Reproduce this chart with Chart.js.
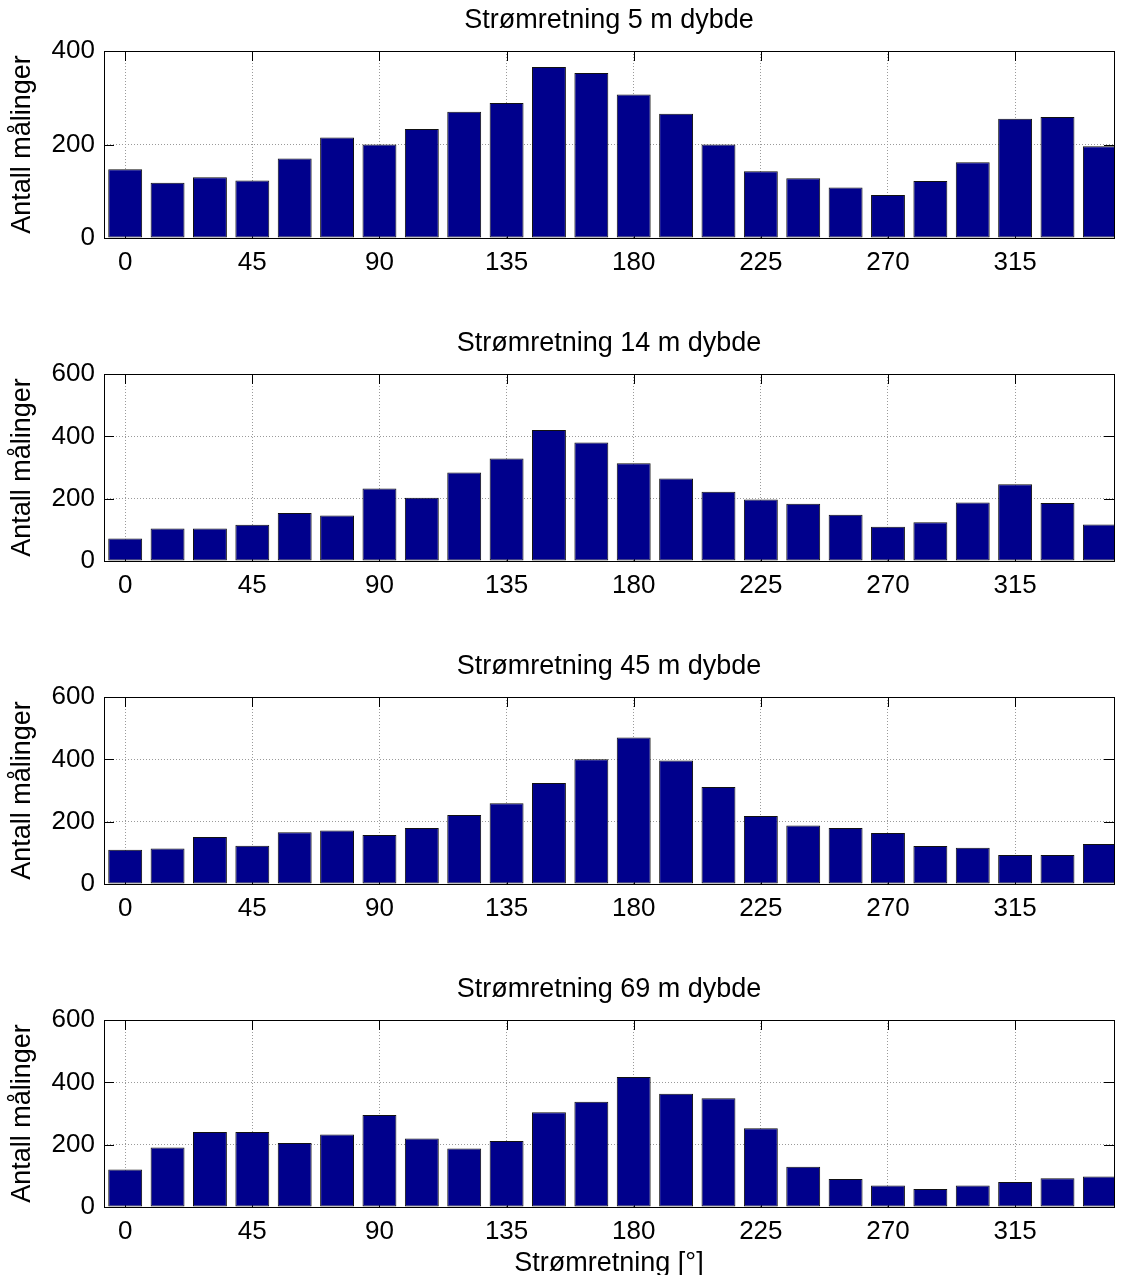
<!DOCTYPE html>
<html>
<head>
<meta charset="utf-8">
<script src="https://cdn.jsdelivr.net/npm/chart.js@4.4.1/dist/chart.umd.min.js"></script>
<style>
  html, body { margin: 0; padding: 0; background: #fff; overflow: hidden; }
  #wrap { position: relative; width: 1125px; height: 1275px; overflow: hidden; }
  canvas { position: absolute; left: 0; }
</style>
</head>
<body>
<div id="wrap">
  <canvas id="c0" width="1125" height="323" style="top:0px"></canvas>
  <canvas id="c1" width="1125" height="323" style="top:323px"></canvas>
  <canvas id="c2" width="1125" height="323" style="top:646px"></canvas>
  <canvas id="c3" width="1125" height="323" style="top:969px"></canvas>
</div>
<script>
// ==============================
// Strømretning histograms, 4 depths, 15° bins
// ==============================

const DIRECTIONS = [0, 15, 30, 45, 60, 75, 90, 105, 120, 135, 150, 165,
                    180, 195, 210, 225, 240, 255, 270, 285, 300, 315, 330, 345];
const X_TICKS = [0, 45, 90, 135, 180, 225, 270, 315];

const DEPTHS = ["5", "14", "45", "69"];
const COUNTS_5M  = [147, 118, 130, 123, 170, 215, 200, 233, 270, 289, 366, 353,
                    307, 266, 200, 143, 128, 108, 92, 122, 162, 255, 259, 196];
const COUNTS_14M = [72, 104, 104, 116, 154, 146, 233, 203, 284, 329, 420, 380,
                    314, 265, 222, 197, 184, 148, 110, 124, 188, 246, 186, 117];
const COUNTS_45M = [110, 114, 151, 123, 166, 172, 157, 180, 221, 259, 324, 400,
                    470, 396, 311, 218, 188, 180, 164, 122, 116, 93, 93, 128];
const COUNTS_69M = [120, 191, 241, 241, 205, 233, 295, 220, 188, 212, 304, 338,
                    417, 363, 349, 253, 129, 90, 69, 58, 69, 80, 92, 98];
const Y_MAX = [400, 600, 600, 600];

const FONT = "'Liberation Sans', Arial, Helvetica, sans-serif";
const BAR_FILL = "#00008c";
const GRID_COL = "#9a9a9a";
const TICK_LEN = 10;

// inward tick marks + solid box, like the matlab axes
const boxTicks = {
  id: "boxTicks",
  beforeDatasetsDraw(chart) {
    const { ctx, chartArea: a, scales: { x, y } } = chart;
    ctx.save();
    ctx.strokeStyle = "#000";
    ctx.lineWidth = 1;
    ctx.beginPath();
    x.ticks.forEach(t => {
      const px = Math.round(x.getPixelForValue(t.value)) + 0.5;
      ctx.moveTo(px, a.top); ctx.lineTo(px, a.top + TICK_LEN);
      ctx.moveTo(px, a.bottom); ctx.lineTo(px, a.bottom - TICK_LEN);
    });
    y.ticks.forEach(t => {
      const py = Math.round(y.getPixelForValue(t.value)) + 0.5;
      ctx.moveTo(a.left, py); ctx.lineTo(a.left + TICK_LEN, py);
      ctx.moveTo(a.right, py); ctx.lineTo(a.right - TICK_LEN, py);
    });
    ctx.stroke();
    ctx.restore();
  },
  afterDatasetsDraw(chart) {
    const { ctx, chartArea: a } = chart;
    ctx.save();
    ctx.strokeStyle = "#000";
    ctx.lineWidth = 1;
    ctx.strokeRect(Math.round(a.left) + 0.5, Math.round(a.top) + 0.5,
                   Math.round(a.right - a.left), Math.round(a.bottom - a.top));
    ctx.restore();
  }
};

function makePanel(idx, counts) {
  const last = idx === DEPTHS.length - 1;
  const ctx = document.getElementById("c" + idx).getContext("2d");
  return new Chart(ctx, {
    type: "bar",
    data: {
      datasets: [{
        data: DIRECTIONS.map((d, i) => ({ x: d, y: counts[i] })),
        backgroundColor: BAR_FILL,
        borderColor: "#111",
        borderWidth: 1,
        borderSkipped: false,
        categoryPercentage: 1.0,
        barPercentage: 0.8,
        clip: 0,
      }],
    },
    options: {
      responsive: false,
      animation: false,
      devicePixelRatio: 1,
      layout: { padding: { left: 0, right: 11, top: 0, bottom: 0 } },
      plugins: {
        legend: { display: false },
        tooltip: { enabled: false },
        title: {
          display: true,
          fullSize: false,
          text: `Strømretning ${DEPTHS[idx]} m dybde`,
          color: "#000",
          font: { family: FONT, size: 27, weight: "normal" },
          padding: { top: 4, bottom: 14.6 },
        },
      },
      scales: {
        x: {
          type: "linear",
          min: -7.5,
          max: 350,
          offset: false,
          afterBuildTicks: s => { s.ticks = X_TICKS.map(v => ({ value: v })); },
          afterFit: s => { s.height = 85; },
          grid: { offset: false, color: GRID_COL, lineWidth: 1, drawTicks: false },
          border: { display: false, dash: [1, 2] },
          ticks: {
            color: "#000",
            padding: 9,
            maxRotation: 0,
            autoSkip: false,
            font: { family: FONT, size: 26 },
          },
          title: {
            display: last,
            text: "Strømretning [°]",
            color: "#000",
            font: { family: FONT, size: 27 },
            padding: { top: 0, bottom: 11.8 },
          },
        },
        y: {
          min: 0,
          max: Y_MAX[idx],
          afterFit: s => { s.width = 104; },
          grid: { color: GRID_COL, lineWidth: 1, drawTicks: false },
          border: { display: false, dash: [1, 2] },
          ticks: {
            stepSize: 200,
            color: "#000",
            padding: 9,
            font: { family: FONT, size: 26 },
          },
          title: {
            display: true,
            text: "Antall målinger",
            color: "#000",
            font: { family: FONT, size: 27 },
            padding: { top: 6.6, bottom: 0 },
          },
        },
      },
    },
    plugins: [boxTicks],
  });
}

document.addEventListener("DOMContentLoaded", () => {
  [COUNTS_5M, COUNTS_14M, COUNTS_45M, COUNTS_69M].forEach((c, i) => makePanel(i, c));
});
</script>
</body>
</html>
